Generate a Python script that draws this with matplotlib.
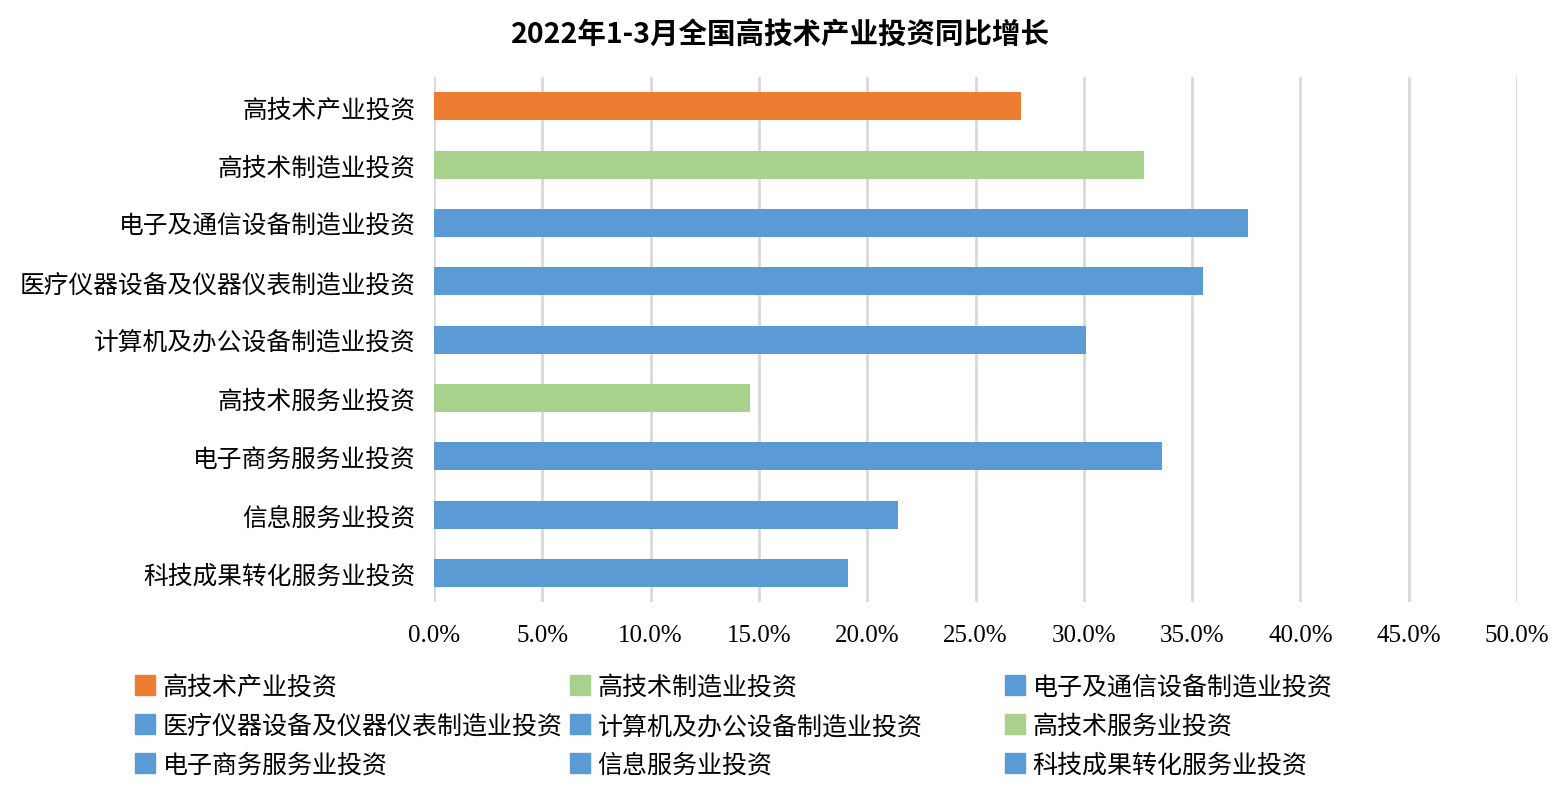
import matplotlib.pyplot as plt
from matplotlib.lines import Line2D
from matplotlib.ticker import MultipleLocator, FuncFormatter

plt.rcParams['font.family'] = ['Noto Sans CJK SC', 'DejaVu Sans']

# 数据
categories = ['高技术产业投资', '高技术制造业投资', '电子及通信设备制造业投资',
              '医疗仪器设备及仪器仪表制造业投资', '计算机及办公设备制造业投资',
              '高技术服务业投资', '电子商务服务业投资', '信息服务业投资',
              '科技成果转化服务业投资']
values = [27.1, 32.8, 37.6, 35.5, 30.1, 14.6, 33.6, 21.4, 19.1]
kinds = ['total', 'group', 'sub', 'sub', 'sub', 'group', 'sub', 'sub', 'sub']
title = '2022年1-3月全国高技术产业投资同比增长'

colors = {'total': '#ED7D31', 'group': '#A9D18E', 'sub': '#5B9BD5'}
bar_colors = [colors[k] for k in kinds]

fig = plt.figure(figsize=(15.6, 8.03), dpi=100)
ax = fig.add_axes([434 / 1560, 1 - 603 / 803, (1517 - 434) / 1560, (603 - 78) / 803])

ypos = list(range(len(categories)))
ax.barh(ypos, values, height=0.48, color=bar_colors, zorder=3)
ax.set_ylim(len(categories) - 0.5, -0.5)
ax.set_xlim(0, 50)

ax.set_yticks(ypos)
ax.set_yticklabels(categories, fontsize=17.8)
ax.xaxis.set_major_locator(MultipleLocator(5))
ax.xaxis.set_major_formatter(FuncFormatter(lambda v, p: f'{v:.1f}%'))
for lab in ax.get_xticklabels():
    lab.set_family('Liberation Serif')
    lab.set_fontsize(18)
ax.tick_params(axis='y', length=0, pad=13)
ax.tick_params(axis='x', length=0, pad=16)

ax.grid(axis='x', color='#d9d9d9', linewidth=2, zorder=0)
for s in ax.spines.values():
    s.set_visible(False)

fig.suptitle(title, fontsize=20.5, fontweight='bold', y=0.973)

# 图例：三列，按行排列
handles = [Line2D([], [], marker='s', linestyle='', markersize=15, color=c) for c in bar_colors]
col_x = [135, 570, 1005]
for ci in range(3):
    idx = [ci, ci + 3, ci + 6]
    fig.legend([handles[i] for i in idx], [categories[i] for i in idx],
               loc='upper left', bbox_to_anchor=(col_x[ci] / 1560, 1 - 675 / 803),
               frameon=False, fontsize=18, handlelength=0.8, handletextpad=0.3,
               labelspacing=0.52, borderpad=0, borderaxespad=0)

fig.savefig('out.png', dpi=100)
